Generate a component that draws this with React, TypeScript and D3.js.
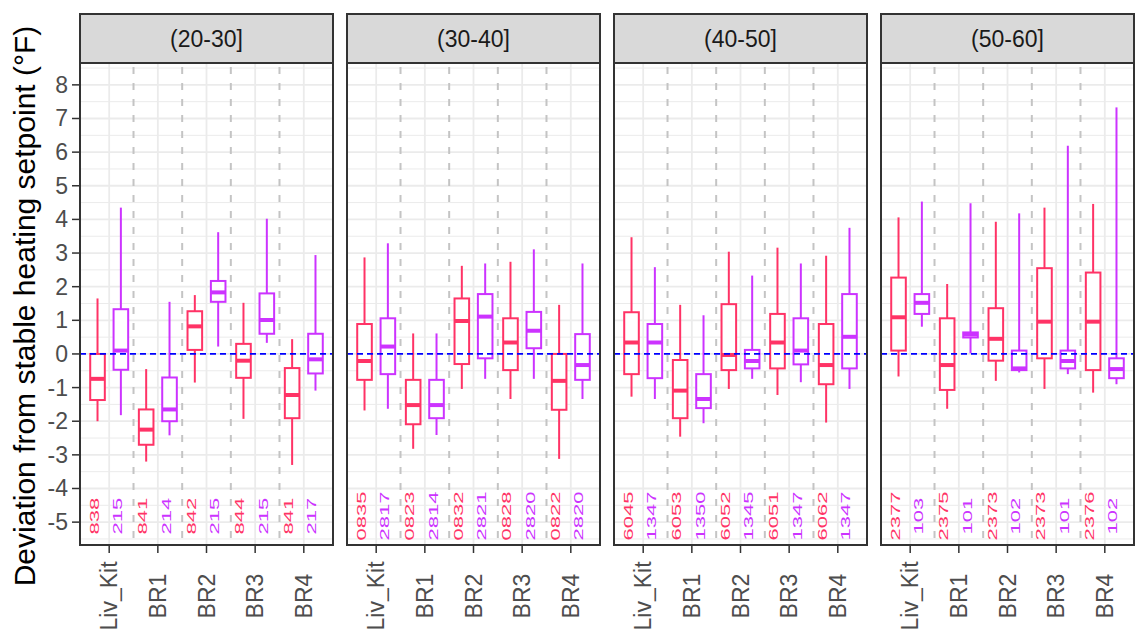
import React from "react";
import * as d3 from "d3";

const categories = ["Liv_Kit", "BR1", "BR2", "BR3", "BR4"];
const panels = ["(20-30]", "(30-40]", "(40-50]", "(50-60]"];
const yTicks = [-5, -4, -3, -2, -1, 0, 1, 2, 3, 4, 5, 6, 7, 8];

// [whiskerLow, q1, median, q3, whiskerHigh]
const red2030 = [[-2.0, -1.37, -0.74, 0.0, 1.65], [-3.2, -2.7, -2.25, -1.65, -0.45], [-0.85, 0.12, 0.82, 1.27, 1.75], [-1.93, -0.71, -0.2, 0.3, 1.52], [-3.3, -1.91, -1.22, -0.42, 0.44]];
const purple2030 = [[-1.82, -0.47, 0.1, 1.33, 4.35], [-2.42, -2.0, -1.65, -0.7, 1.55], [0.22, 1.55, 1.83, 2.17, 3.62], [0.33, 0.6, 1.01, 1.8, 4.02], [-1.09, -0.58, -0.16, 0.6, 2.94]];
const red3040 = [[-1.68, -0.77, -0.21, 0.89, 2.87], [-2.82, -2.09, -1.52, -0.77, 0.61], [-1.04, -0.3, 0.98, 1.65, 2.62], [-1.34, -0.48, 0.34, 1.06, 2.74], [-3.12, -1.66, -0.8, 0.0, 1.46]];
const purple3040 = [[-1.63, -0.6, 0.22, 1.06, 3.29], [-2.41, -1.91, -1.52, -0.77, 0.61], [-0.74, -0.13, 1.11, 1.78, 2.69], [-0.74, 0.17, 0.69, 1.25, 3.11], [-1.34, -0.77, -0.33, 0.59, 2.69]];
const red4050 = [[-1.27, -0.6, 0.34, 1.24, 3.47], [-2.46, -1.91, -1.09, -0.18, 1.46], [-1.04, -0.48, -0.03, 1.48, 3.04], [-1.22, -0.43, 0.34, 1.19, 3.16], [-2.04, -0.9, -0.33, 0.89, 2.92]];
const purple4050 = [[-1.34, -0.72, 0.34, 0.89, 2.58], [-2.06, -1.61, -1.34, -0.6, 1.15], [-0.74, -0.43, -0.21, 0.12, 2.33], [-0.84, -0.31, 0.1, 1.06, 2.69], [-1.04, -0.43, 0.51, 1.78, 3.75]];
const red5060 = [[-0.67, 0.1, 1.09, 2.27, 4.06], [-1.63, -1.07, -0.33, 1.06, 2.08], [-0.8, -0.2, 0.45, 1.36, 3.93], [-1.04, -0.13, 0.96, 2.55, 4.35], [-1.15, -0.48, 0.96, 2.42, 4.46]];
const purple5060 = [[0.81, 1.19, 1.52, 1.78, 4.53], [0.02, 0.49, 0.58, 0.64, 4.48], [-0.55, -0.48, -0.43, 0.1, 4.18], [-0.6, -0.43, -0.21, 0.1, 6.19], [-0.9, -0.72, -0.45, -0.13, 7.33]];

const redCounts2030 = ["838", "841", "842", "844", "841"];
const purpleCounts2030 = ["215", "214", "215", "215", "217"];
const redCounts3040 = ["0835", "0823", "0832", "0828", "0822"];
const purpleCounts3040 = ["2817", "2814", "2821", "2820", "2820"];
const redCounts4050 = ["6045", "6053", "6052", "6051", "6062"];
const purpleCounts4050 = ["1347", "1350", "1345", "1347", "1347"];
const redCounts5060 = ["2377", "2375", "2373", "2373", "2376"];
const purpleCounts5060 = ["103", "101", "102", "101", "102"];

const redStats = [red2030, red3040, red4050, red5060];
const purpleStats = [purple2030, purple3040, purple4050, purple5060];
const redCounts = [redCounts2030, redCounts3040, redCounts4050, redCounts5060];
const purpleCounts = [purpleCounts2030, purpleCounts3040, purpleCounts4050, purpleCounts5060];

const RED = "#FF3366";
const PURPLE = "#CC33FF";
const countY = -4.82;

export default function App() {
  const W = 1144, H = 639;
  const panelW = 253, panelTop = 63, panelBottom = 545, stripTop = 14;
  const panelX = [80, 347, 614, 881];
  const y = d3.scaleLinear().domain([-5.68, 8.65]).range([panelBottom, panelTop]);
  const minor = d3.range(-5.5, 8.6, 1);
  const font = "'Liberation Sans', Arial, sans-serif";

  return (
    <svg width={W} height={H} style={{ position: "fixed", left: 0, top: 0, background: "#fff" }} fontFamily={font}>
      <defs>
        {panels.map((p, i) => (
          <clipPath id={`clip${i}`} key={p}>
            <rect x={panelX[i]} y={panelTop} width={panelW} height={panelBottom - panelTop} />
          </clipPath>
        ))}
      </defs>
      <text transform={`translate(35,306) rotate(-90)`} textAnchor="middle" fontSize={30} fill="#000">
        Deviation from stable heating setpoint (°F)
      </text>
      {yTicks.map((t) => (
        <g key={t}>
          <text x={68} y={y(t)} textAnchor="end" dominantBaseline="central" fontSize={23} fill="#4D4D4D">{t}</text>
          <line x1={72} x2={80} y1={y(t)} y2={y(t)} stroke="#333" strokeWidth={1.5} />
        </g>
      ))}
      {panels.map((p, pi) => {
        const x0 = panelX[pi];
        const x = d3.scalePoint<string>().domain(categories).range([x0, x0 + panelW]).padding(0.6);
        const step = x.step();
        const off = 0.24 * step;
        const bw = 0.3 * step;
        const mids = categories.slice(0, -1).map((c, i) => ((x(c) as number) + (x(categories[i + 1]) as number)) / 2);
        const drawBox = (s: number[], cx: number, color: string, key: string) => (
          <g key={key}>
            <line x1={cx} x2={cx} y1={y(s[3])} y2={y(s[4])} stroke={color} strokeWidth={2} />
            <line x1={cx} x2={cx} y1={y(s[1])} y2={y(s[0])} stroke={color} strokeWidth={2} />
            <rect x={cx - bw / 2} y={y(s[3])} width={bw} height={y(s[1]) - y(s[3])} fill="#fff" stroke={color} strokeWidth={2} />
            <line x1={cx - bw / 2} x2={cx + bw / 2} y1={y(s[2])} y2={y(s[2])} stroke={color} strokeWidth={4} />
          </g>
        );
        return (
          <g key={p}>
            <rect x={x0} y={stripTop} width={panelW} height={panelTop - stripTop} fill="#D9D9D9" stroke="#333" strokeWidth={2} />
            <text x={x0 + panelW / 2} y={(stripTop + panelTop) / 2} textAnchor="middle" dominantBaseline="central" fontSize={23} fill="#1A1A1A">{p}</text>
            <rect x={x0} y={panelTop} width={panelW} height={panelBottom - panelTop} fill="#fff" />
            <g clipPath={`url(#clip${pi})`}>
              {minor.map((m) => (
                <line key={"mi" + m} x1={x0} x2={x0 + panelW} y1={y(m)} y2={y(m)} stroke="#EBEBEB" strokeWidth={1} />
              ))}
              {yTicks.map((t) => (
                <line key={"ma" + t} x1={x0} x2={x0 + panelW} y1={y(t)} y2={y(t)} stroke="#EBEBEB" strokeWidth={1.8} />
              ))}
              {categories.map((c) => (
                <line key={"v" + c} x1={x(c)} x2={x(c)} y1={panelTop} y2={panelBottom} stroke="#EBEBEB" strokeWidth={1.8} />
              ))}
              {mids.map((m, i) => (
                <line key={"d" + i} x1={m} x2={m} y1={panelTop} y2={panelBottom} stroke="#C4C4C4" strokeWidth={2} strokeDasharray="7,9" strokeDashoffset={-4} />
              ))}
              {categories.map((c, ci) => drawBox(redStats[pi][ci], (x(c) as number) - off, RED, "r" + c))}
              {categories.map((c, ci) => drawBox(purpleStats[pi][ci], (x(c) as number) + off, PURPLE, "p" + c))}
              {categories.map((c, ci) => (
                <g key={"cnt" + c}>
                  <text transform={`translate(${(x(c) as number) - off + 1},${y(countY)}) rotate(-90) scale(1,0.62)`} textAnchor="middle" fontSize={22} fill={RED}>{redCounts[pi][ci]}</text>
                  <text transform={`translate(${(x(c) as number) + off + 1},${y(countY)}) rotate(-90) scale(1,0.62)`} textAnchor="middle" fontSize={22} fill={PURPLE}>{purpleCounts[pi][ci]}</text>
                </g>
              ))}
              <line x1={x0} x2={x0 + panelW} y1={y(0)} y2={y(0)} stroke="#0000FF" strokeWidth={1.8} strokeDasharray="6,4" />
            </g>
            <rect x={x0} y={panelTop} width={panelW} height={panelBottom - panelTop} fill="none" stroke="#333" strokeWidth={2} />
            {categories.map((c) => (
              <g key={"xt" + c}>
                <line x1={x(c)} x2={x(c)} y1={panelBottom} y2={panelBottom + 8} stroke="#333" strokeWidth={1.5} />
                <text transform={`translate(${x(c)},596) rotate(-90)`} textAnchor="middle" dominantBaseline="central" fontSize={23} fill="#4D4D4D">{c}</text>
              </g>
            ))}
          </g>
        );
      })}
    </svg>
  );
}
